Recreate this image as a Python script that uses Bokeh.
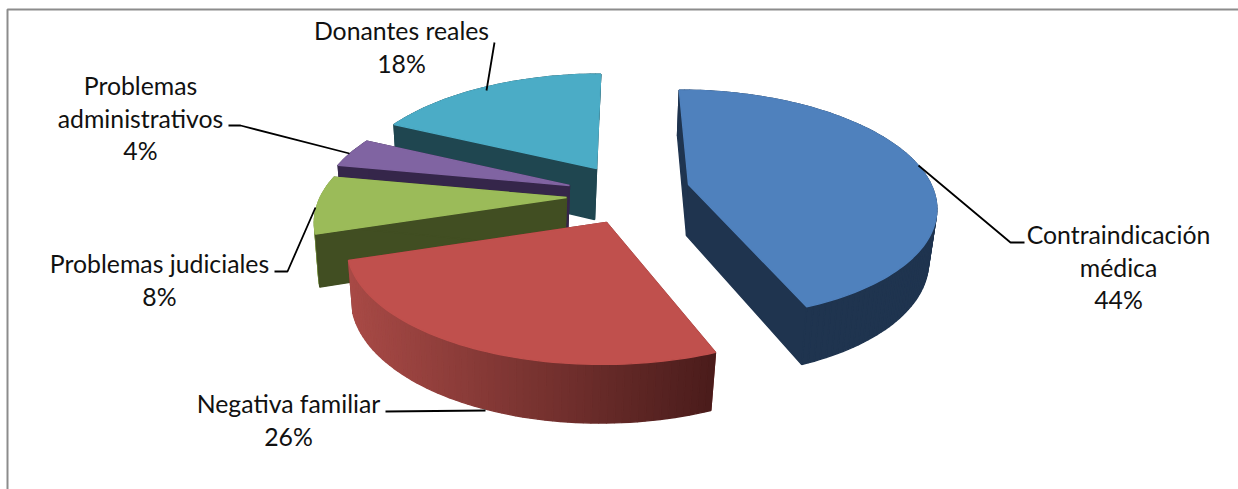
import numpy as np
from bokeh.embed import file_html
from bokeh.resources import INLINE
from bokeh.plotting import figure
from bokeh.models import Range1d, ColumnDataSource
from bokeh.core.properties import value

# ---- data ----
categories = ["Contraindicación médica", "Negativa familiar", "Problemas judiciales",
              "Problemas administrativos", "Donantes reales"]
percent = [44, 26, 8, 4, 18]

# ---- style ----
top_colors = ["#4F81BD", "#C0504D", "#9BBB59", "#8064A2", "#4BACC6"]
face_colors = ["#1F344F", "#7A2F2D", "#414E22", "#35264A", "#1F4650"]
wall_left = ["#1F344F", "#A84A46", "#7E9848", "#35264A", "#1F4650"]
wall_right = ["#1F344F", "#4A1C1B", "#7E9848", "#35264A", "#1F4650"]
# where each exploded slice's tip lands and how large it looks (layout of the explosion)
tips = [(688, 184), (606, 222), (566, 197), (569, 185), (596, 168)]
radius_scale = [0.97, 1.02, 0.985, 0.98, 0.97]
draw_order = [4, 3, 2, 0, 1]
faces_behind_wall = [1]
RX, RY, K, X0 = 250.0, 114.0, 0.177, 625.0
DEPTH, BOTTOM_SCALE, BOTTOM_SHIFT = 51.0, 0.975, -2.0

label_lines = [["Contraindicación", "médica"], ["Negativa familiar"], ["Problemas judiciales"],
               ["Problemas", "administrativos"], ["Donantes reales"]]
label_cx = [1118, 288, 159, 140, 401]
label_top = [234, 403, 263, 85, 30]
LINE_H = 32.5
leaders = [([918, 1010, 1024], [165, 242, 242]),
           ([485, 385], [410, 411]),
           ([315, 287, 274], [207, 271, 271]),
           ([349, 240, 228], [153, 125, 125]),
           ([486, 494], [90, 42])]


def project(tip, theta, radius=1.0):
    """Disc position at clockwise angle theta from 12 o'clock, in page pixels."""
    u, v = np.sin(theta) * radius, np.cos(theta) * radius
    s = 1.0 / (1.0 + K * v)
    x = X0 + (tip[0] - X0 + RX * u) * s
    y = tip[1] - RY * v * s
    return x, y


def lower(tip, x, y, theta, radius=1.0):
    v = np.cos(theta) * radius
    s = 1.0 / (1.0 + K * v)
    bx = tip[0] + (x - tip[0]) * BOTTOM_SCALE + BOTTOM_SHIFT
    by = tip[1] + (y - tip[1]) * BOTTOM_SCALE + DEPTH * s
    return bx, by


def mix(c1, c2, t):
    a = [int(c1[i:i + 2], 16) for i in (1, 3, 5)]
    b = [int(c2[i:i + 2], 16) for i in (1, 3, 5)]
    return "#%02x%02x%02x" % tuple(int(round(p + (q - p) * t)) for p, q in zip(a, b))


fractions = np.array(percent, dtype=float) / sum(percent)
edges = np.concatenate([[0.0], np.cumsum(fractions)]) * 2 * np.pi

xs, ys, fills = [], [], []


def add(px, py, col):
    xs.append(list(map(float, px)))
    ys.append(list(map(float, py)))
    fills.append(col)


for i in draw_order:
    tip = tips[i]
    rs = radius_scale[i]
    a0, a1 = edges[i], edges[i + 1]
    thetas = np.linspace(a0, a1, max(int((a1 - a0) * 40), 6))
    tops = [project(tip, t, rs) for t in thetas]
    bots = [lower(tip, px, py, t, rs) for (px, py), t in zip(tops, thetas)]
    tb = lower(tip, tip[0], tip[1], np.pi / 2, 0)

    def faces():
        add([tip[0], tops[0][0], bots[0][0], tb[0]], [tip[1], tops[0][1], bots[0][1], tb[1]], face_colors[i])
        add([tip[0], tops[-1][0], bots[-1][0], tb[0]], [tip[1], tops[-1][1], bots[-1][1], tb[1]], face_colors[i])

    if i in faces_behind_wall:
        faces()
    # curved outer wall
    allx = [q[0] for q in tops]
    lo, hi = min(allx), max(allx)
    for j in range(len(thetas) - 1):
        f = ((tops[j][0] + tops[j + 1][0]) / 2 - lo) / (hi - lo)
        add([tops[j][0], tops[j + 1][0], bots[j + 1][0], bots[j][0]],
            [tops[j][1], tops[j + 1][1], bots[j + 1][1], bots[j][1]],
            mix(wall_left[i], wall_right[i], f))
    if i not in faces_behind_wall:
        faces()
    # top surface
    add([tip[0]] + [q[0] for q in tops], [tip[1]] + [q[1] for q in tops], top_colors[i])

p = figure(width=1238, height=489, output_backend="svg", toolbar_location=None,
           x_range=Range1d(0, 1238), y_range=Range1d(489, 0), min_border=0)
p.axis.visible = False
p.grid.visible = False
p.outline_line_color = None
p.background_fill_color = "white"

p.line([7, 7, 1238], [489, 9, 9], line_color="#8C8C8C", line_width=2)

src = ColumnDataSource(dict(xs=xs, ys=ys, c=fills))
p.patches("xs", "ys", source=src, fill_color="c", line_color="c", line_width=1.4)

for lx, ly in leaders:
    p.line(lx, ly, line_color="black", line_width=1.8)

tx, ty, tt = [], [], []
for i, lines in enumerate(label_lines):
    rows = lines + ["%d%%" % percent[i]]
    for r, row in enumerate(rows):
        tx.append(label_cx[i])
        ty.append(label_top[i] + r * LINE_H)
        tt.append(row)
p.text(tx, ty, text=tt, text_font=value("Lato"), text_font_size="24.8px", text_color="#111111",
       text_align="center", text_baseline="middle")

open("out.html", "w").write(file_html(p, INLINE))
